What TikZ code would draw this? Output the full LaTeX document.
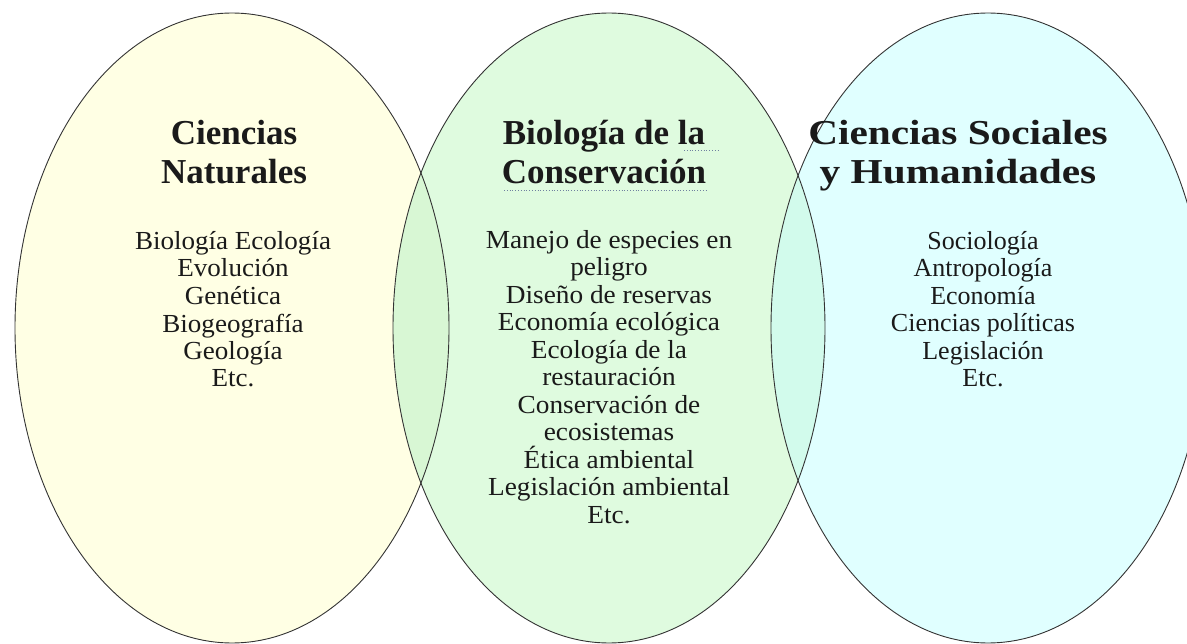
\documentclass[tikz,border=0pt]{standalone}
\usepackage{fontspec}
\setmainfont{Liberation Serif}
\definecolor{cyel}{HTML}{FFFFE4}
\definecolor{cgrn}{HTML}{DFFBDF}
\definecolor{ccya}{HTML}{E0FFFF}
\definecolor{covlm}{HTML}{D8F7D4}
\definecolor{covmr}{HTML}{D2FBEC}
\definecolor{cline}{HTML}{333333}
\definecolor{ctext}{HTML}{1A1A1A}
\definecolor{cdot}{HTML}{7080A0}
\tikzset{
  head/.style={anchor=base, align=center, inner sep=0pt, text=ctext,
    font=\fontsize{35}{39}\selectfont\bfseries},
  body/.style={anchor=base, align=center, inner sep=0pt, text=ctext,
    font=\fontsize{26}{27.5}\selectfont},
  outline/.style={draw=cline, line width=0.9pt},
  spell/.style={draw=cdot, dotted, line width=0.8pt}
}
\begin{document}
\begin{tikzpicture}[x=1pt,y=-1pt]
\useasboundingbox (0,0) rectangle (1187,644);
% fills
\fill[cyel] (232,328) ellipse [x radius=217, y radius=315];
\fill[cgrn] (609,328) ellipse [x radius=216, y radius=315];
\fill[ccya] (988,328) ellipse [x radius=217, y radius=315];
\begin{scope}
  \clip (232,328) ellipse [x radius=217, y radius=315];
  \fill[covlm] (609,328) ellipse [x radius=216, y radius=315];
\end{scope}
\begin{scope}
  \clip (609,328) ellipse [x radius=216, y radius=315];
  \fill[covmr] (988,328) ellipse [x radius=217, y radius=315];
\end{scope}
% outlines
\draw[outline] (232,328) ellipse [x radius=217, y radius=315];
\draw[outline] (609,328) ellipse [x radius=216, y radius=315];
\draw[outline] (988,328) ellipse [x radius=217, y radius=315];
% headings (anchor = baseline of the last line)
\node[head] (hl) at (234,184) {Ciencias\\Naturales};
\node[head] (hm) at (604,184) {Biología de la\\Conservación};
\node[head, font=\fontsize{35}{39}\selectfont\bfseries\addfontfeatures{FakeStretch=1.18}] (hr) at (958,184) {Ciencias Sociales\\y Humanidades};
% bodies (anchor = baseline of the last line)
\node[body, font=\fontsize{26}{27.5}\selectfont\addfontfeatures{FakeStretch=1.04}] (bl) at (233,387) {Biología Ecología\\Evolución\\Genética\\Biogeografía\\Geología\\Etc.};
\node[body, font=\fontsize{26}{27.5}\selectfont\addfontfeatures{FakeStretch=1.05}] (bm) at (609,523) {Manejo de especies en\\peligro\\Diseño de reservas\\Economía ecológica\\Ecología de la\\restauración\\Conservación de\\ecosistemas\\Ética ambiental\\Legislación ambiental\\Etc.};
\node[body] (br) at (983,387) {Sociología\\Antropología\\Economía\\Ciencias políticas\\Legislación\\Etc.};
% spell-check dotted underlines
\draw[spell] (684,150) -- (719,150);
\draw[spell] (504,190) -- (708,190);
\end{tikzpicture}
\end{document}
